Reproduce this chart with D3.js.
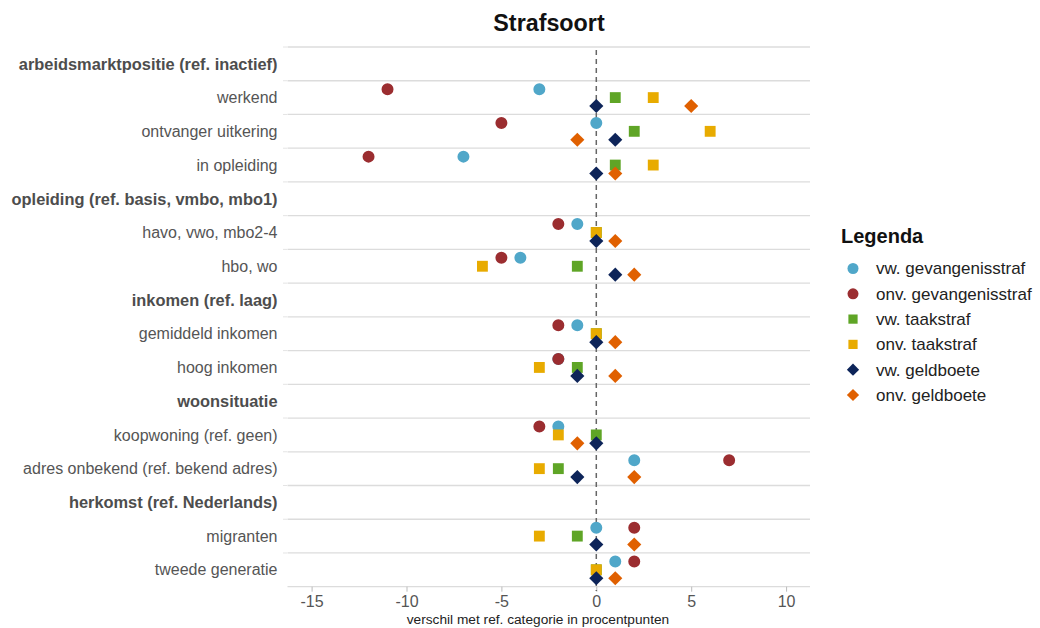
<!DOCTYPE html>
<html>
<head>
<meta charset="utf-8">
<script src="https://cdn.jsdelivr.net/npm/d3@7"></script>
<style>
  body { margin: 0; background: #fff; }
  text { font-family: "Liberation Sans", Arial, sans-serif; }
</style>
</head>
<body>
<div id="chart"></div>
<script>
const width = 1040;
const height = 628;

// rows from top to bottom, headers have no points
const rows = [
  'arbeidsmarktpositie (ref. inactief)', 'werkend', 'ontvanger uitkering', 'in opleiding',
  'opleiding (ref. basis, vmbo, mbo1)', 'havo, vwo, mbo2-4', 'hbo, wo',
  'inkomen (ref. laag)', 'gemiddeld inkomen', 'hoog inkomen',
  'woonsituatie', 'koopwoning (ref. geen)', 'adres onbekend (ref. bekend adres)',
  'herkomst (ref. Nederlands)', 'migranten', 'tweede generatie'
];
const headers = ['arbeidsmarktpositie (ref. inactief)', 'opleiding (ref. basis, vmbo, mbo1)',
  'inkomen (ref. laag)', 'woonsituatie', 'herkomst (ref. Nederlands)'];
const items = ['werkend', 'ontvanger uitkering', 'in opleiding', 'havo, vwo, mbo2-4', 'hbo, wo',
  'gemiddeld inkomen', 'hoog inkomen', 'koopwoning (ref. geen)',
  'adres onbekend (ref. bekend adres)', 'migranten', 'tweede generatie'];

const vwGevangenis  = [-3, 0, -7, -1, -4, -1, -2, -2, 2, 0, 1];
const onvGevangenis = [-11, -5, -12, -2, -5, -2, -2, -3, 7, 2, 2];
const vwTaak        = [1, 2, 1, 0, -1, 0, -1, 0, -2, -1, 0];
const onvTaak       = [3, 6, 3, 0, -6, 0, -3, -2, -3, -3, 0];
const vwGeld        = [0, 1, 0, 0, 1, 0, -1, 0, -1, 0, 0];
const onvGeld       = [5, -1, 1, 1, 2, 1, 1, -1, 2, 2, 1];

const xTicks = [-15, -10, -5, 0, 5, 10];

const series = [
  {name: 'vw. gevangenisstraf', values: vwGevangenis, group: 'gev', shape: 'circle', color: '#50a7c9'},
  {name: 'onv. gevangenisstraf', values: onvGevangenis, group: 'gev', shape: 'circle', color: '#9b2d30'},
  {name: 'vw. taakstraf', values: vwTaak, group: 'taak', shape: 'square', color: '#5fa526'},
  {name: 'onv. taakstraf', values: onvTaak, group: 'taak', shape: 'square', color: '#e8ab00'},
  {name: 'vw. geldboete', values: vwGeld, group: 'geld', shape: 'diamond', color: '#0d2459'},
  {name: 'onv. geldboete', values: onvGeld, group: 'geld', shape: 'diamond', color: '#e06000'}
];

const svg = d3.select('#chart').append('svg')
    .attr('width', width)
    .attr('height', height);

const x = d3.scaleLinear().domain([-16.27, 11.26]).range([287.5, 810]);
const y = d3.scaleBand().domain(rows).range([47, 586.7]).padding(0);
const sub = d3.scalePoint().domain(['gev', 'taak', 'geld'])
    .range([y.bandwidth() * 0.25, y.bandwidth() * 0.75]);

const symbols = {
  circle: d3.symbol().type(d3.symbolCircle).size(113)(),
  square: d3.symbol().type(d3.symbolSquare).size(118)(),
  diamond: d3.symbol().type(d3.symbolSquare).size(100)()
};

// title
svg.append('text')
    .attr('x', 549).attr('y', 31)
    .attr('text-anchor', 'middle')
    .attr('font-size', 23.3).attr('font-weight', 'bold')
    .attr('fill', '#111')
    .text('Strafsoort');

// grid lines at band borders
const borders = rows.map(r => y(r)).concat([y.range()[1]]);
svg.append('g').selectAll('line').data(borders).join('line')
    .attr('x1', x.range()[0]).attr('x2', x.range()[1])
    .attr('y1', d => d).attr('y2', d => d)
    .attr('stroke', '#dcdcdc').attr('stroke-width', 1.3);
svg.append('g').selectAll('line').data(borders.slice(0, -1)).join('line')
    .attr('x1', 283).attr('x2', 287)
    .attr('y1', d => d).attr('y2', d => d)
    .attr('stroke', '#e4e4e4');

// row labels
svg.append('g').selectAll('text').data(rows).join('text')
    .attr('x', 277.5)
    .attr('y', d => y(d) + y.bandwidth() / 2)
    .attr('dy', '0.35em')
    .attr('text-anchor', 'end')
    .attr('font-size', d => headers.includes(d) ? 16.4 : 16)
    .attr('font-weight', d => headers.includes(d) ? 'bold' : 'normal')
    .attr('fill', d => headers.includes(d) ? '#4d4d4d' : '#555')
    .text(d => d);

// x axis
const xAxis = svg.append('g')
    .attr('transform', `translate(0,${y.range()[1]})`)
    .call(d3.axisBottom(x).tickValues(xTicks).tickFormat(d => String(d)).tickSize(5).tickPadding(4));
xAxis.select('.domain').remove();
xAxis.selectAll('.tick line').attr('stroke', '#bbb');
xAxis.selectAll('.tick text')
    .attr('font-size', 16).attr('fill', '#555')
    .style('font-family', '"Liberation Sans", Arial, sans-serif');

svg.append('text')
    .attr('x', 538).attr('y', 624)
    .attr('text-anchor', 'middle')
    .attr('font-size', 13.7).attr('fill', '#222')
    .text('verschil met ref. categorie in procentpunten');

// reference line at zero
svg.append('line')
    .attr('x1', x(0)).attr('x2', x(0))
    .attr('y1', 50).attr('y2', 591)
    .attr('stroke', '#666').attr('stroke-width', 1.5)
    .attr('stroke-dasharray', '5,4');

// points
series.forEach(s => {
  svg.append('g').selectAll('path').data(items.map((it, i) => ({row: it, v: s.values[i]})))
    .join('path')
      .attr('d', symbols[s.shape])
      .attr('fill', s.color)
      .attr('transform', d => `translate(${x(d.v)},${y(d.row) + sub(s.group)})` +
          (s.shape === 'diamond' ? ' rotate(45)' : ''));
});

// legend
const legend = svg.append('g').attr('transform', 'translate(841,0)');
legend.append('text')
    .attr('x', 0).attr('y', 243)
    .attr('font-size', 20).attr('font-weight', 'bold')
    .attr('fill', '#111')
    .text('Legenda');
const li = legend.selectAll('g.item').data(series).join('g')
    .attr('class', 'item')
    .attr('transform', (d, i) => `translate(0,${268.5 + i * 25.3})`);
li.append('path')
    .attr('d', d => d3.symbol().type(d.shape === 'circle' ? d3.symbolCircle : d3.symbolSquare)
        .size(d.shape === 'circle' ? 95 : d.shape === 'square' ? 85 : 75)())
    .attr('fill', d => d.color)
    .attr('transform', d => 'translate(12,0)' + (d.shape === 'diamond' ? ' rotate(45)' : ''));
li.append('text')
    .attr('x', 35).attr('dy', '0.35em')
    .attr('font-size', 17).attr('fill', '#222')
    .text(d => d.name);
</script>
</body>
</html>
